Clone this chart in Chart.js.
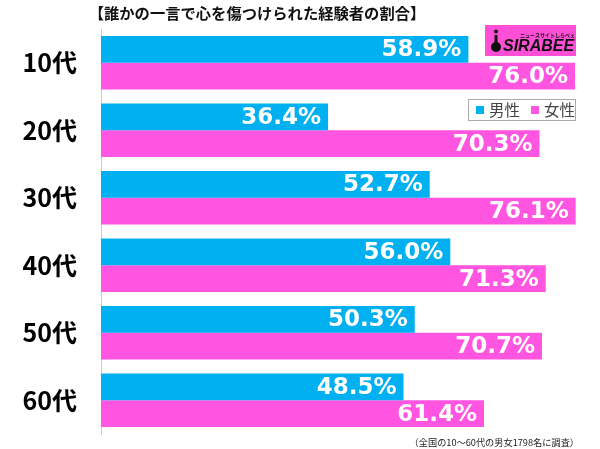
<!DOCTYPE html>
<html><head><meta charset="utf-8">
<script src="https://cdn.jsdelivr.net/npm/chart.js@4/dist/chart.umd.min.js"></script>
<style>html,body{margin:0;padding:0;background:#fff}canvas{display:block}</style>
</head><body>
<canvas id="c" width="600" height="449"></canvas>
<script>
const titleText = '【誰かの一言で心を傷つけられた経験者の割合】';
const footnote = '（全国の10～60代の男女1798名に調査）';
const categories = ['10代','20代','30代','40代','50代','60代'];
const seriesNames = ['男性','女性'];
const maleValues = [58.9, 36.4, 52.7, 56.0, 50.3, 48.5];
const femaleValues = [76.0, 70.3, 76.1, 71.3, 70.7, 61.4];
const colors = ['#00b0f0', '#ff55e1'];

const JP = '"Noto Sans CJK JP", "Noto Sans", sans-serif';

const decor = {
  id: 'decor',
  afterDatasetsDraw(chart) {
    const ctx = chart.ctx;
    ctx.save();
    ctx.font = 'bold 23px "DejaVu Sans", sans-serif';
    ctx.fillStyle = '#fff';
    ctx.textAlign = 'right';
    ctx.textBaseline = 'middle';
    chart.data.datasets.forEach((ds, di) => {
      chart.getDatasetMeta(di).data.forEach((bar, i) => {
        ctx.fillText(ds.data[i].toFixed(1) + '%', bar.x - 7, bar.y + 1);
      });
    });
    ctx.restore();
  },
  afterDraw(chart) {
    const ctx = chart.ctx;
    ctx.save();
    ctx.font = 'bold 15.3px ' + JP;
    ctx.fillStyle = '#111';
    ctx.textAlign = 'center';
    ctx.textBaseline = 'middle';
    ctx.fillText(titleText, 257, 13);
    ctx.font = '9.2px ' + JP;
    ctx.fillStyle = '#222';
    ctx.textAlign = 'right';
    ctx.fillText(footnote, 579, 443);
    // legend
    ctx.fillStyle = '#fff';
    ctx.fillRect(468, 99, 108, 22);
    ctx.strokeStyle = '#aaa';
    ctx.lineWidth = 1;
    ctx.strokeRect(468.5, 99.5, 107, 21);
    ctx.font = '15.5px ' + JP;
    ctx.textAlign = 'left';
    const lx = [476, 531];
    chart.data.datasets.forEach((ds, i) => {
      ctx.fillStyle = ds.backgroundColor;
      ctx.fillRect(lx[i], 106, 8, 8);
      ctx.fillStyle = '#444';
      ctx.fillText(ds.label, lx[i] + 13, 110.5);
    });
    // logo
    ctx.fillStyle = '#ff4fd6';
    ctx.fillRect(485, 25, 91, 31);
    ctx.fillStyle = '#111';
    ctx.font = 'italic bold 16px "Liberation Sans", Arial, sans-serif';
    ctx.textAlign = 'left';
    ctx.textBaseline = 'alphabetic';
    ctx.fillText('SIRABEE', 503, 51);
    ctx.font = 'bold 5px ' + JP;
    ctx.fillText('ニュースサイトしらべぇ', 520, 37);
    ctx.beginPath();
    ctx.arc(496, 31.5, 2, 0, Math.PI * 2);
    ctx.fill();
    ctx.fillRect(494.5, 35, 3, 8);
    ctx.beginPath();
    ctx.arc(496, 47, 5, 0, Math.PI * 2);
    ctx.fill();
    ctx.restore();
  }
};

new Chart(document.getElementById('c'), {
  type: 'bar',
  data: {
    labels: categories,
    datasets: [
      { label: seriesNames[0], data: maleValues, backgroundColor: colors[0] },
      { label: seriesNames[1], data: femaleValues, backgroundColor: colors[1] }
    ]
  },
  options: {
    indexAxis: 'y',
    responsive: false,
    animation: false,
    devicePixelRatio: 1,
    layout: { padding: { top: 29, bottom: 15, left: 0, right: 0 } },
    datasets: { bar: { categoryPercentage: 0.79, barPercentage: 1.0 } },
    plugins: { legend: { display: false }, title: { display: false }, tooltip: { enabled: false } },
    scales: {
      x: { display: false, min: 0, max: 80 },
      y: {
        afterFit(s) { s.width = 101; s.paddingTop = 0; s.paddingBottom = 0; },
        grid: { display: false },
        border: { display: true, color: '#cccccc', width: 1 },
        ticks: { padding: 16, color: '#000', font: { family: JP, size: 25, weight: 'bold' } }
      }
    }
  },
  plugins: [decor]
});
</script>
</body></html>
